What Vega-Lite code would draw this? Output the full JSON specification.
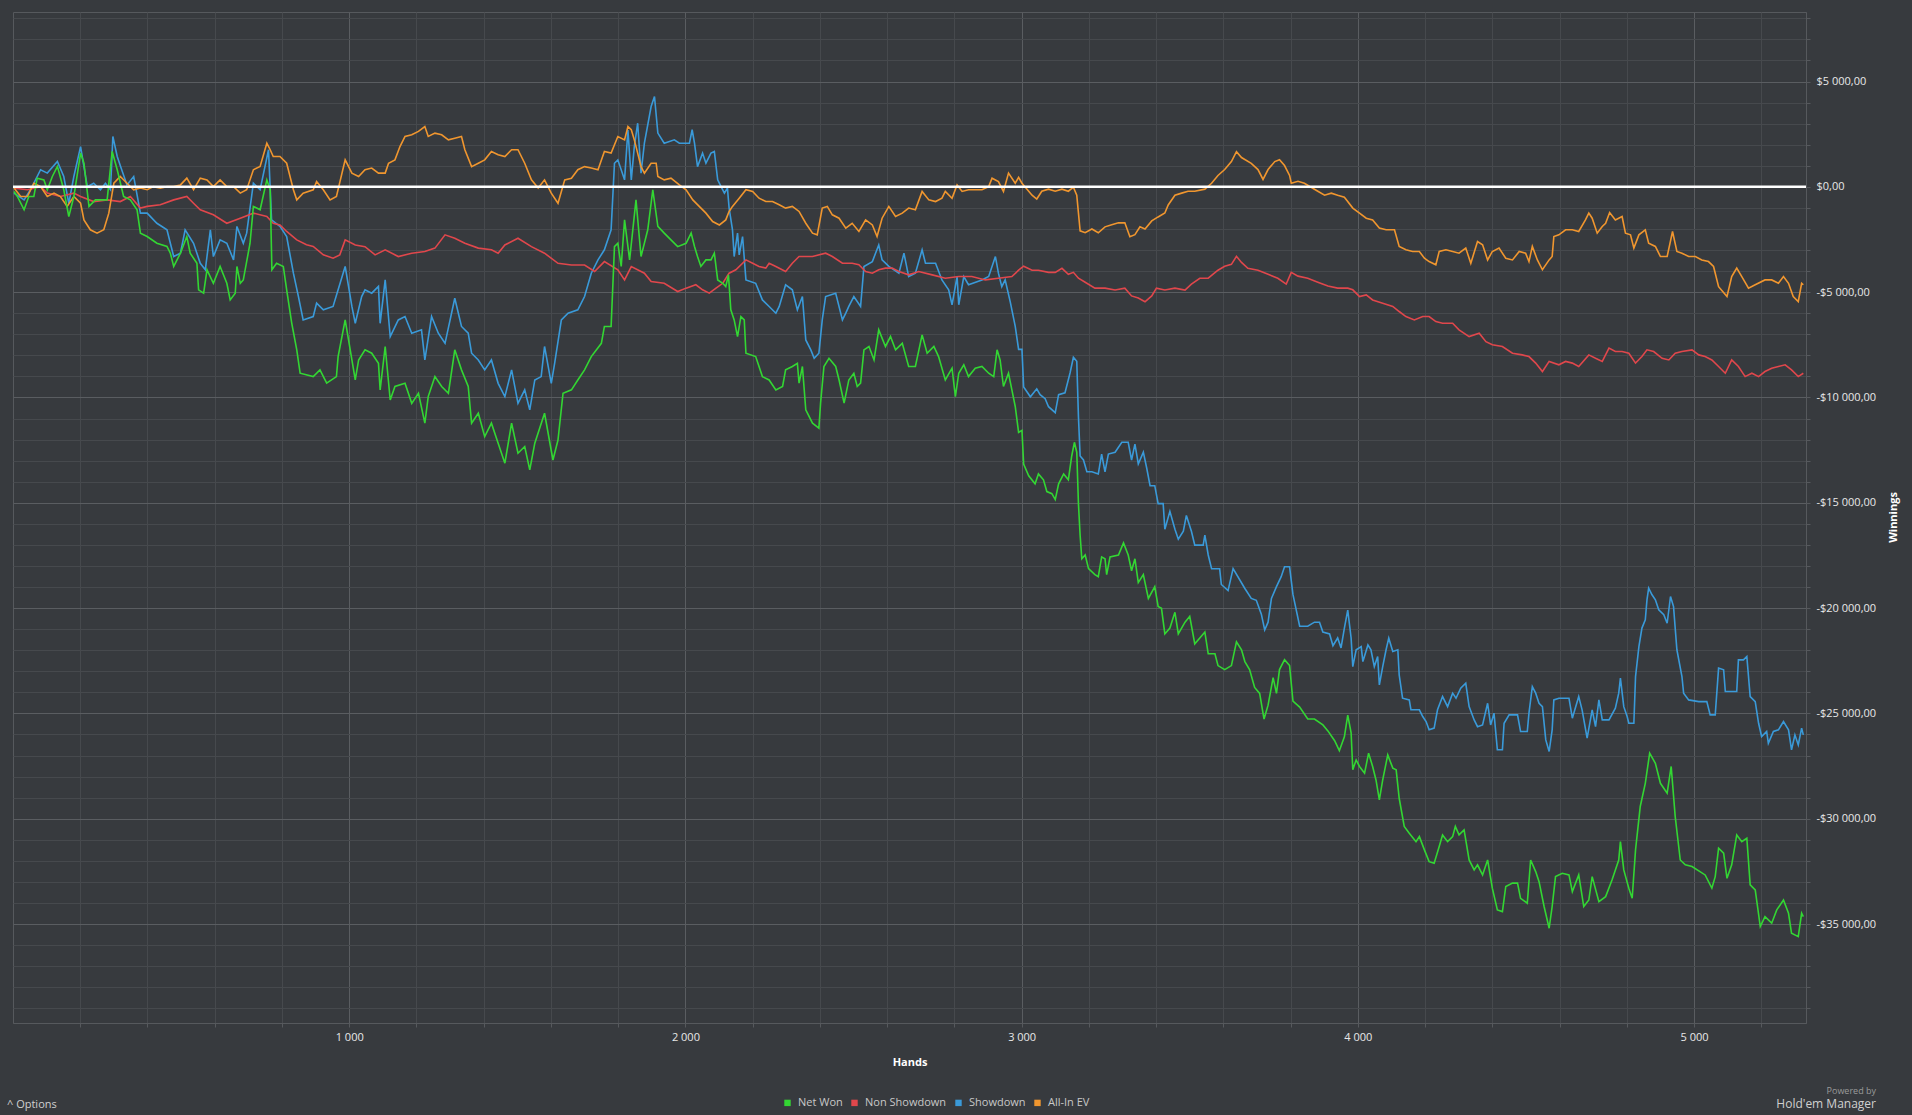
{
  "$schema": "https://vega.github.io/schema/vega-lite/v6.json",
  "width": 1793,
  "height": 1011,
  "autosize": {"type": "none"},
  "padding": {"left": 13, "top": 12, "right": 106, "bottom": 92},
  "background": "#373a3e",
  "config": {
    "font": "Open Sans",
    "locale": {"number": {"decimal": ",", "thousands": " ", "grouping": [3], "currency": ["$", ""], "minus": "-"}},
    "view": {"stroke": "#56595d", "fill": "#373a3e"}
  },
  "title": {
    "text": "Powered by",
    "subtitle": "Hold'em Manager",
    "orient": "bottom",
    "anchor": "end",
    "frame": "bounds",
    "offset": -27,
    "dx": -22,
    "fontSize": 9,
    "fontWeight": "normal",
    "color": "#9a9a9a",
    "subtitleFontSize": 12,
    "subtitleColor": "#d0d0d0",
    "subtitlePadding": 3
  },
  "datasets": {
    "winnings": [
      {"series":"Showdown","hands":3,"won":-300},{"series":"Showdown","hands":33,"won":-620},{"series":"Showdown","hands":52,"won":-140},{"series":"Showdown","hands":82,"won":810},{"series":"Showdown","hands":102,"won":650},{"series":"Showdown","hands":132,"won":1200},{"series":"Showdown","hands":151,"won":490},{"series":"Showdown","hands":166,"won":-780},{"series":"Showdown","hands":181,"won":490},{"series":"Showdown","hands":201,"won":1910},{"series":"Showdown","hands":221,"won":0},{"series":"Showdown","hands":240,"won":170},{"series":"Showdown","hands":260,"won":-140},{"series":"Showdown","hands":275,"won":170},{"series":"Showdown","hands":290,"won":-140},{"series":"Showdown","hands":297,"won":2390},{"series":"Showdown","hands":310,"won":1440},{"series":"Showdown","hands":320,"won":970},{"series":"Showdown","hands":339,"won":90},{"series":"Showdown","hands":359,"won":490},{"series":"Showdown","hands":379,"won":-1250},{"series":"Showdown","hands":399,"won":-1250},{"series":"Showdown","hands":428,"won":-1730},{"series":"Showdown","hands":458,"won":-2040},{"series":"Showdown","hands":468,"won":-2680},{"series":"Showdown","hands":478,"won":-3310},{"series":"Showdown","hands":498,"won":-3150},{"series":"Showdown","hands":512,"won":-2040},{"series":"Showdown","hands":537,"won":-2680},{"series":"Showdown","hands":557,"won":-3630},{"series":"Showdown","hands":572,"won":-3940},{"series":"Showdown","hands":587,"won":-2040},{"series":"Showdown","hands":596,"won":-3310},{"series":"Showdown","hands":616,"won":-2520},{"series":"Showdown","hands":636,"won":-2680},{"series":"Showdown","hands":656,"won":-3470},{"series":"Showdown","hands":666,"won":-1880},{"series":"Showdown","hands":685,"won":-2680},{"series":"Showdown","hands":695,"won":-2200},{"series":"Showdown","hands":715,"won":170},{"series":"Showdown","hands":735,"won":-140},{"series":"Showdown","hands":760,"won":1760},{"series":"Showdown","hands":769,"won":-1570},{"series":"Showdown","hands":794,"won":-1880},{"series":"Showdown","hands":814,"won":-2360},{"series":"Showdown","hands":834,"won":-4100},{"series":"Showdown","hands":849,"won":-5210},{"series":"Showdown","hands":863,"won":-6320},{"series":"Showdown","hands":893,"won":-6160},{"series":"Showdown","hands":903,"won":-5520},{"series":"Showdown","hands":923,"won":-5840},{"series":"Showdown","hands":952,"won":-5680},{"series":"Showdown","hands":967,"won":-4890},{"series":"Showdown","hands":988,"won":-3780},{"series":"Showdown","hands":1008,"won":-5680},{"series":"Showdown","hands":1018,"won":-6480},{"series":"Showdown","hands":1037,"won":-5210},{"series":"Showdown","hands":1047,"won":-4890},{"series":"Showdown","hands":1067,"won":-5050},{"series":"Showdown","hands":1087,"won":-4730},{"series":"Showdown","hands":1092,"won":-6480},{"series":"Showdown","hands":1107,"won":-4420},{"series":"Showdown","hands":1122,"won":-7110},{"series":"Showdown","hands":1146,"won":-6320},{"series":"Showdown","hands":1166,"won":-6160},{"series":"Showdown","hands":1186,"won":-6950},{"series":"Showdown","hands":1215,"won":-6790},{"series":"Showdown","hands":1225,"won":-8220},{"series":"Showdown","hands":1245,"won":-6160},{"series":"Showdown","hands":1265,"won":-6950},{"series":"Showdown","hands":1285,"won":-7430},{"series":"Showdown","hands":1314,"won":-5290},{"series":"Showdown","hands":1334,"won":-6630},{"series":"Showdown","hands":1354,"won":-6950},{"series":"Showdown","hands":1364,"won":-7900},{"series":"Showdown","hands":1384,"won":-8220},{"series":"Showdown","hands":1403,"won":-8690},{"series":"Showdown","hands":1423,"won":-8220},{"series":"Showdown","hands":1443,"won":-9330},{"series":"Showdown","hands":1463,"won":-9960},{"series":"Showdown","hands":1483,"won":-8690},{"series":"Showdown","hands":1502,"won":-10280},{"series":"Showdown","hands":1522,"won":-9640},{"series":"Showdown","hands":1537,"won":-10590},{"series":"Showdown","hands":1552,"won":-9170},{"series":"Showdown","hands":1571,"won":-9010},{"series":"Showdown","hands":1581,"won":-7580},{"series":"Showdown","hands":1601,"won":-9330},{"series":"Showdown","hands":1611,"won":-8380},{"series":"Showdown","hands":1631,"won":-6320},{"series":"Showdown","hands":1651,"won":-6000},{"series":"Showdown","hands":1680,"won":-5840},{"series":"Showdown","hands":1700,"won":-5210},{"series":"Showdown","hands":1720,"won":-4100},{"series":"Showdown","hands":1740,"won":-3470},{"series":"Showdown","hands":1759,"won":-2990},{"series":"Showdown","hands":1779,"won":-2040},{"series":"Showdown","hands":1789,"won":1120},{"series":"Showdown","hands":1799,"won":1280},{"series":"Showdown","hands":1819,"won":330},{"series":"Showdown","hands":1829,"won":2700},{"series":"Showdown","hands":1839,"won":330},{"series":"Showdown","hands":1848,"won":1910},{"series":"Showdown","hands":1858,"won":3020},{"series":"Showdown","hands":1868,"won":650},{"series":"Showdown","hands":1878,"won":2070},{"series":"Showdown","hands":1898,"won":3810},{"series":"Showdown","hands":1908,"won":4290},{"series":"Showdown","hands":1918,"won":2550},{"series":"Showdown","hands":1937,"won":2070},{"series":"Showdown","hands":1967,"won":2230},{"series":"Showdown","hands":1982,"won":2070},{"series":"Showdown","hands":2012,"won":2070},{"series":"Showdown","hands":2020,"won":2710},{"series":"Showdown","hands":2027,"won":2070},{"series":"Showdown","hands":2036,"won":960},{"series":"Showdown","hands":2051,"won":1600},{"series":"Showdown","hands":2061,"won":1120},{"series":"Showdown","hands":2076,"won":1600},{"series":"Showdown","hands":2086,"won":1680},{"series":"Showdown","hands":2096,"won":330},{"series":"Showdown","hands":2106,"won":10},{"series":"Showdown","hands":2116,"won":-300},{"series":"Showdown","hands":2125,"won":-60},{"series":"Showdown","hands":2130,"won":-1010},{"series":"Showdown","hands":2140,"won":-2040},{"series":"Showdown","hands":2145,"won":-3310},{"series":"Showdown","hands":2155,"won":-2200},{"series":"Showdown","hands":2160,"won":-3230},{"series":"Showdown","hands":2170,"won":-2360},{"series":"Showdown","hands":2180,"won":-4420},{"series":"Showdown","hands":2209,"won":-4580},{"series":"Showdown","hands":2229,"won":-5370},{"series":"Showdown","hands":2249,"won":-5680},{"series":"Showdown","hands":2269,"won":-6000},{"series":"Showdown","hands":2279,"won":-5680},{"series":"Showdown","hands":2298,"won":-4650},{"series":"Showdown","hands":2318,"won":-4890},{"series":"Showdown","hands":2333,"won":-5840},{"series":"Showdown","hands":2348,"won":-5210},{"series":"Showdown","hands":2358,"won":-7270},{"series":"Showdown","hands":2373,"won":-7740},{"series":"Showdown","hands":2383,"won":-8140},{"series":"Showdown","hands":2397,"won":-7900},{"series":"Showdown","hands":2407,"won":-6320},{"series":"Showdown","hands":2417,"won":-5210},{"series":"Showdown","hands":2447,"won":-5050},{"series":"Showdown","hands":2467,"won":-6320},{"series":"Showdown","hands":2477,"won":-6000},{"series":"Showdown","hands":2486,"won":-5680},{"series":"Showdown","hands":2501,"won":-5210},{"series":"Showdown","hands":2521,"won":-5680},{"series":"Showdown","hands":2531,"won":-3780},{"series":"Showdown","hands":2556,"won":-3550},{"series":"Showdown","hands":2575,"won":-2760},{"series":"Showdown","hands":2585,"won":-3470},{"series":"Showdown","hands":2605,"won":-3780},{"series":"Showdown","hands":2635,"won":-4100},{"series":"Showdown","hands":2650,"won":-3150},{"series":"Showdown","hands":2664,"won":-4260},{"series":"Showdown","hands":2684,"won":-4100},{"series":"Showdown","hands":2704,"won":-2990},{"series":"Showdown","hands":2714,"won":-3630},{"series":"Showdown","hands":2744,"won":-3630},{"series":"Showdown","hands":2763,"won":-4420},{"series":"Showdown","hands":2783,"won":-4890},{"series":"Showdown","hands":2793,"won":-5600},{"series":"Showdown","hands":2808,"won":-4260},{"series":"Showdown","hands":2813,"won":-5600},{"series":"Showdown","hands":2828,"won":-4260},{"series":"Showdown","hands":2842,"won":-4650},{"series":"Showdown","hands":2882,"won":-4420},{"series":"Showdown","hands":2902,"won":-4260},{"series":"Showdown","hands":2922,"won":-3310},{"series":"Showdown","hands":2931,"won":-4100},{"series":"Showdown","hands":2941,"won":-4740},{"series":"Showdown","hands":2951,"won":-4420},{"series":"Showdown","hands":2966,"won":-5450},{"series":"Showdown","hands":2981,"won":-6630},{"series":"Showdown","hands":2991,"won":-7720},{"series":"Showdown","hands":3001,"won":-7720},{"series":"Showdown","hands":3006,"won":-9500},{"series":"Showdown","hands":3026,"won":-9970},{"series":"Showdown","hands":3045,"won":-9590},{"series":"Showdown","hands":3055,"won":-9870},{"series":"Showdown","hands":3070,"won":-10060},{"series":"Showdown","hands":3080,"won":-10440},{"series":"Showdown","hands":3100,"won":-10720},{"series":"Showdown","hands":3110,"won":-9870},{"series":"Showdown","hands":3129,"won":-9780},{"series":"Showdown","hands":3144,"won":-8840},{"series":"Showdown","hands":3154,"won":-8090},{"series":"Showdown","hands":3164,"won":-8280},{"series":"Showdown","hands":3169,"won":-10910},{"series":"Showdown","hands":3174,"won":-12780},{"series":"Showdown","hands":3184,"won":-12970},{"series":"Showdown","hands":3194,"won":-13530},{"series":"Showdown","hands":3209,"won":-13530},{"series":"Showdown","hands":3228,"won":-13630},{"series":"Showdown","hands":3238,"won":-12690},{"series":"Showdown","hands":3248,"won":-13530},{"series":"Showdown","hands":3258,"won":-12690},{"series":"Showdown","hands":3278,"won":-12600},{"series":"Showdown","hands":3298,"won":-12130},{"series":"Showdown","hands":3317,"won":-12130},{"series":"Showdown","hands":3327,"won":-12970},{"series":"Showdown","hands":3337,"won":-12220},{"series":"Showdown","hands":3347,"won":-13160},{"series":"Showdown","hands":3362,"won":-12600},{"series":"Showdown","hands":3372,"won":-13350},{"series":"Showdown","hands":3382,"won":-14190},{"series":"Showdown","hands":3396,"won":-14190},{"series":"Showdown","hands":3406,"won":-15040},{"series":"Showdown","hands":3421,"won":-15040},{"series":"Showdown","hands":3426,"won":-16260},{"series":"Showdown","hands":3441,"won":-15410},{"series":"Showdown","hands":3456,"won":-16260},{"series":"Showdown","hands":3466,"won":-16730},{"series":"Showdown","hands":3481,"won":-16350},{"series":"Showdown","hands":3490,"won":-15600},{"series":"Showdown","hands":3505,"won":-16350},{"series":"Showdown","hands":3515,"won":-17010},{"series":"Showdown","hands":3540,"won":-17010},{"series":"Showdown","hands":3545,"won":-16540},{"series":"Showdown","hands":3555,"won":-17480},{"series":"Showdown","hands":3565,"won":-18130},{"series":"Showdown","hands":3589,"won":-18130},{"series":"Showdown","hands":3594,"won":-18880},{"series":"Showdown","hands":3614,"won":-19170},{"series":"Showdown","hands":3629,"won":-18130},{"series":"Showdown","hands":3664,"won":-19070},{"series":"Showdown","hands":3683,"won":-19540},{"series":"Showdown","hands":3698,"won":-19630},{"series":"Showdown","hands":3713,"won":-20290},{"series":"Showdown","hands":3723,"won":-21040},{"series":"Showdown","hands":3733,"won":-20670},{"series":"Showdown","hands":3743,"won":-19540},{"series":"Showdown","hands":3758,"won":-18980},{"series":"Showdown","hands":3772,"won":-18510},{"series":"Showdown","hands":3782,"won":-18040},{"series":"Showdown","hands":3797,"won":-18040},{"series":"Showdown","hands":3807,"won":-19350},{"series":"Showdown","hands":3827,"won":-20860},{"series":"Showdown","hands":3851,"won":-20860},{"series":"Showdown","hands":3871,"won":-20670},{"series":"Showdown","hands":3886,"won":-20670},{"series":"Showdown","hands":3896,"won":-21140},{"series":"Showdown","hands":3916,"won":-21230},{"series":"Showdown","hands":3926,"won":-21790},{"series":"Showdown","hands":3940,"won":-21420},{"series":"Showdown","hands":3950,"won":-21890},{"series":"Showdown","hands":3960,"won":-20950},{"series":"Showdown","hands":3970,"won":-20100},{"series":"Showdown","hands":3980,"won":-21420},{"series":"Showdown","hands":3985,"won":-22780},{"series":"Showdown","hands":3995,"won":-21980},{"series":"Showdown","hands":4010,"won":-21830},{"series":"Showdown","hands":4015,"won":-22540},{"series":"Showdown","hands":4030,"won":-21750},{"series":"Showdown","hands":4039,"won":-21980},{"series":"Showdown","hands":4049,"won":-22780},{"series":"Showdown","hands":4059,"won":-22300},{"series":"Showdown","hands":4064,"won":-23650},{"series":"Showdown","hands":4074,"won":-22780},{"series":"Showdown","hands":4084,"won":-21980},{"series":"Showdown","hands":4092,"won":-21430},{"series":"Showdown","hands":4104,"won":-22060},{"series":"Showdown","hands":4119,"won":-21980},{"series":"Showdown","hands":4123,"won":-23170},{"series":"Showdown","hands":4133,"won":-24280},{"series":"Showdown","hands":4153,"won":-24360},{"series":"Showdown","hands":4158,"won":-24830},{"series":"Showdown","hands":4183,"won":-24830},{"series":"Showdown","hands":4193,"won":-25150},{"series":"Showdown","hands":4203,"won":-25390},{"series":"Showdown","hands":4212,"won":-25780},{"series":"Showdown","hands":4227,"won":-25700},{"series":"Showdown","hands":4237,"won":-24830},{"series":"Showdown","hands":4252,"won":-24200},{"series":"Showdown","hands":4267,"won":-24680},{"series":"Showdown","hands":4282,"won":-24040},{"series":"Showdown","hands":4292,"won":-24280},{"series":"Showdown","hands":4306,"won":-23800},{"series":"Showdown","hands":4321,"won":-23570},{"series":"Showdown","hands":4331,"won":-24680},{"series":"Showdown","hands":4346,"won":-25310},{"series":"Showdown","hands":4356,"won":-25630},{"series":"Showdown","hands":4371,"won":-25550},{"series":"Showdown","hands":4386,"won":-24520},{"series":"Showdown","hands":4395,"won":-25550},{"series":"Showdown","hands":4405,"won":-24990},{"series":"Showdown","hands":4415,"won":-26730},{"series":"Showdown","hands":4430,"won":-26730},{"series":"Showdown","hands":4435,"won":-25470},{"series":"Showdown","hands":4450,"won":-25070},{"series":"Showdown","hands":4475,"won":-25070},{"series":"Showdown","hands":4484,"won":-25860},{"series":"Showdown","hands":4504,"won":-25860},{"series":"Showdown","hands":4509,"won":-24990},{"series":"Showdown","hands":4519,"won":-23730},{"series":"Showdown","hands":4529,"won":-24040},{"series":"Showdown","hands":4539,"won":-24520},{"series":"Showdown","hands":4549,"won":-24680},{"series":"Showdown","hands":4559,"won":-26260},{"series":"Showdown","hands":4569,"won":-26810},{"series":"Showdown","hands":4578,"won":-25780},{"series":"Showdown","hands":4583,"won":-24360},{"series":"Showdown","hands":4598,"won":-24280},{"series":"Showdown","hands":4628,"won":-24280},{"series":"Showdown","hands":4638,"won":-25230},{"series":"Showdown","hands":4657,"won":-24200},{"series":"Showdown","hands":4667,"won":-24830},{"series":"Showdown","hands":4682,"won":-26180},{"series":"Showdown","hands":4697,"won":-24830},{"series":"Showdown","hands":4707,"won":-25630},{"series":"Showdown","hands":4717,"won":-24360},{"series":"Showdown","hands":4727,"won":-25310},{"series":"Showdown","hands":4747,"won":-25310},{"series":"Showdown","hands":4766,"won":-24750},{"series":"Showdown","hands":4776,"won":-24040},{"series":"Showdown","hands":4781,"won":-23330},{"series":"Showdown","hands":4791,"won":-24680},{"series":"Showdown","hands":4801,"won":-25150},{"series":"Showdown","hands":4806,"won":-25470},{"series":"Showdown","hands":4821,"won":-25470},{"series":"Showdown","hands":4826,"won":-23250},{"series":"Showdown","hands":4836,"won":-21830},{"series":"Showdown","hands":4845,"won":-20950},{"series":"Showdown","hands":4855,"won":-20560},{"series":"Showdown","hands":4860,"won":-19610},{"series":"Showdown","hands":4865,"won":-19050},{"series":"Showdown","hands":4875,"won":-19370},{"series":"Showdown","hands":4885,"won":-19610},{"series":"Showdown","hands":4895,"won":-20080},{"series":"Showdown","hands":4910,"won":-20320},{"series":"Showdown","hands":4920,"won":-20720},{"series":"Showdown","hands":4930,"won":-19450},{"series":"Showdown","hands":4939,"won":-19930},{"series":"Showdown","hands":4949,"won":-21980},{"series":"Showdown","hands":4964,"won":-23250},{"series":"Showdown","hands":4969,"won":-24040},{"series":"Showdown","hands":4984,"won":-24360},{"series":"Showdown","hands":5014,"won":-24440},{"series":"Showdown","hands":5038,"won":-24440},{"series":"Showdown","hands":5048,"won":-25070},{"series":"Showdown","hands":5063,"won":-25070},{"series":"Showdown","hands":5073,"won":-22850},{"series":"Showdown","hands":5088,"won":-22930},{"series":"Showdown","hands":5093,"won":-23960},{"series":"Showdown","hands":5127,"won":-23960},{"series":"Showdown","hands":5132,"won":-22460},{"series":"Showdown","hands":5147,"won":-22460},{"series":"Showdown","hands":5157,"won":-22300},{"series":"Showdown","hands":5167,"won":-24200},{"series":"Showdown","hands":5182,"won":-24440},{"series":"Showdown","hands":5192,"won":-25470},{"series":"Showdown","hands":5201,"won":-26100},{"series":"Showdown","hands":5216,"won":-25860},{"series":"Showdown","hands":5221,"won":-26420},{"series":"Showdown","hands":5236,"won":-25860},{"series":"Showdown","hands":5251,"won":-25780},{"series":"Showdown","hands":5266,"won":-25390},{"series":"Showdown","hands":5281,"won":-25780},{"series":"Showdown","hands":5290,"won":-26730},{"series":"Showdown","hands":5300,"won":-26020},{"series":"Showdown","hands":5310,"won":-26500},{"series":"Showdown","hands":5320,"won":-25700},{"series":"Showdown","hands":5325,"won":-26020},
      {"series":"Non Showdown","hands":3,"won":-60},{"series":"Non Showdown","hands":43,"won":-140},{"series":"Non Showdown","hands":82,"won":10},{"series":"Non Showdown","hands":102,"won":-300},{"series":"Non Showdown","hands":141,"won":-460},{"series":"Non Showdown","hands":181,"won":-300},{"series":"Non Showdown","hands":201,"won":-460},{"series":"Non Showdown","hands":240,"won":-700},{"series":"Non Showdown","hands":280,"won":-620},{"series":"Non Showdown","hands":319,"won":-700},{"series":"Non Showdown","hands":349,"won":-460},{"series":"Non Showdown","hands":379,"won":-1010},{"series":"Non Showdown","hands":399,"won":-930},{"series":"Non Showdown","hands":438,"won":-850},{"series":"Non Showdown","hands":478,"won":-620},{"series":"Non Showdown","hands":517,"won":-460},{"series":"Non Showdown","hands":537,"won":-780},{"series":"Non Showdown","hands":557,"won":-1090},{"series":"Non Showdown","hands":596,"won":-1330},{"series":"Non Showdown","hands":636,"won":-1730},{"series":"Non Showdown","hands":676,"won":-1490},{"series":"Non Showdown","hands":715,"won":-1250},{"series":"Non Showdown","hands":755,"won":-1410},{"series":"Non Showdown","hands":774,"won":-1730},{"series":"Non Showdown","hands":794,"won":-1810},{"series":"Non Showdown","hands":814,"won":-2120},{"series":"Non Showdown","hands":844,"won":-2520},{"series":"Non Showdown","hands":873,"won":-2750},{"series":"Non Showdown","hands":893,"won":-2830},{"series":"Non Showdown","hands":923,"won":-3230},{"series":"Non Showdown","hands":952,"won":-3390},{"series":"Non Showdown","hands":972,"won":-3230},{"series":"Non Showdown","hands":988,"won":-2520},{"series":"Non Showdown","hands":1018,"won":-2760},{"series":"Non Showdown","hands":1047,"won":-2840},{"series":"Non Showdown","hands":1077,"won":-3230},{"series":"Non Showdown","hands":1107,"won":-2990},{"series":"Non Showdown","hands":1146,"won":-3310},{"series":"Non Showdown","hands":1186,"won":-3150},{"series":"Non Showdown","hands":1225,"won":-3070},{"series":"Non Showdown","hands":1255,"won":-2910},{"series":"Non Showdown","hands":1285,"won":-2280},{"series":"Non Showdown","hands":1314,"won":-2440},{"series":"Non Showdown","hands":1344,"won":-2680},{"series":"Non Showdown","hands":1384,"won":-2910},{"series":"Non Showdown","hands":1423,"won":-2990},{"series":"Non Showdown","hands":1443,"won":-3150},{"series":"Non Showdown","hands":1463,"won":-2760},{"series":"Non Showdown","hands":1502,"won":-2440},{"series":"Non Showdown","hands":1542,"won":-2840},{"series":"Non Showdown","hands":1581,"won":-3150},{"series":"Non Showdown","hands":1621,"won":-3630},{"series":"Non Showdown","hands":1661,"won":-3710},{"series":"Non Showdown","hands":1700,"won":-3710},{"series":"Non Showdown","hands":1730,"won":-4020},{"series":"Non Showdown","hands":1759,"won":-3550},{"series":"Non Showdown","hands":1799,"won":-3940},{"series":"Non Showdown","hands":1819,"won":-4420},{"series":"Non Showdown","hands":1839,"won":-3790},{"series":"Non Showdown","hands":1878,"won":-4100},{"series":"Non Showdown","hands":1898,"won":-4500},{"series":"Non Showdown","hands":1937,"won":-4580},{"series":"Non Showdown","hands":1977,"won":-4970},{"series":"Non Showdown","hands":2002,"won":-4810},{"series":"Non Showdown","hands":2031,"won":-4650},{"series":"Non Showdown","hands":2051,"won":-4890},{"series":"Non Showdown","hands":2071,"won":-5050},{"series":"Non Showdown","hands":2091,"won":-4810},{"series":"Non Showdown","hands":2111,"won":-4580},{"series":"Non Showdown","hands":2130,"won":-4100},{"series":"Non Showdown","hands":2150,"won":-3940},{"series":"Non Showdown","hands":2180,"won":-3470},{"series":"Non Showdown","hands":2200,"won":-3630},{"series":"Non Showdown","hands":2219,"won":-3780},{"series":"Non Showdown","hands":2239,"won":-3860},{"series":"Non Showdown","hands":2249,"won":-3630},{"series":"Non Showdown","hands":2269,"won":-3780},{"series":"Non Showdown","hands":2298,"won":-4020},{"series":"Non Showdown","hands":2318,"won":-3630},{"series":"Non Showdown","hands":2338,"won":-3310},{"series":"Non Showdown","hands":2378,"won":-3310},{"series":"Non Showdown","hands":2417,"won":-3150},{"series":"Non Showdown","hands":2437,"won":-3310},{"series":"Non Showdown","hands":2467,"won":-3630},{"series":"Non Showdown","hands":2496,"won":-3630},{"series":"Non Showdown","hands":2516,"won":-3700},{"series":"Non Showdown","hands":2536,"won":-4020},{"series":"Non Showdown","hands":2556,"won":-4100},{"series":"Non Showdown","hands":2575,"won":-3940},{"series":"Non Showdown","hands":2595,"won":-3860},{"series":"Non Showdown","hands":2615,"won":-3860},{"series":"Non Showdown","hands":2635,"won":-4020},{"series":"Non Showdown","hands":2664,"won":-4180},{"series":"Non Showdown","hands":2694,"won":-4020},{"series":"Non Showdown","hands":2734,"won":-4180},{"series":"Non Showdown","hands":2773,"won":-4340},{"series":"Non Showdown","hands":2813,"won":-4260},{"series":"Non Showdown","hands":2852,"won":-4260},{"series":"Non Showdown","hands":2892,"won":-4420},{"series":"Non Showdown","hands":2931,"won":-4340},{"series":"Non Showdown","hands":2971,"won":-4260},{"series":"Non Showdown","hands":2991,"won":-3960},{"series":"Non Showdown","hands":3006,"won":-3770},{"series":"Non Showdown","hands":3031,"won":-3960},{"series":"Non Showdown","hands":3050,"won":-3960},{"series":"Non Showdown","hands":3080,"won":-4060},{"series":"Non Showdown","hands":3100,"won":-4060},{"series":"Non Showdown","hands":3120,"won":-3870},{"series":"Non Showdown","hands":3139,"won":-4150},{"series":"Non Showdown","hands":3154,"won":-4060},{"series":"Non Showdown","hands":3169,"won":-4340},{"series":"Non Showdown","hands":3189,"won":-4530},{"series":"Non Showdown","hands":3218,"won":-4810},{"series":"Non Showdown","hands":3248,"won":-4810},{"series":"Non Showdown","hands":3278,"won":-4900},{"series":"Non Showdown","hands":3307,"won":-4810},{"series":"Non Showdown","hands":3327,"won":-5180},{"series":"Non Showdown","hands":3347,"won":-5280},{"series":"Non Showdown","hands":3367,"won":-5460},{"series":"Non Showdown","hands":3387,"won":-5180},{"series":"Non Showdown","hands":3401,"won":-4810},{"series":"Non Showdown","hands":3426,"won":-4900},{"series":"Non Showdown","hands":3456,"won":-4810},{"series":"Non Showdown","hands":3486,"won":-4900},{"series":"Non Showdown","hands":3505,"won":-4620},{"series":"Non Showdown","hands":3530,"won":-4340},{"series":"Non Showdown","hands":3555,"won":-4340},{"series":"Non Showdown","hands":3584,"won":-3960},{"series":"Non Showdown","hands":3604,"won":-3770},{"series":"Non Showdown","hands":3624,"won":-3680},{"series":"Non Showdown","hands":3639,"won":-3300},{"series":"Non Showdown","hands":3654,"won":-3590},{"series":"Non Showdown","hands":3673,"won":-3870},{"series":"Non Showdown","hands":3703,"won":-3960},{"series":"Non Showdown","hands":3733,"won":-4150},{"series":"Non Showdown","hands":3762,"won":-4340},{"series":"Non Showdown","hands":3787,"won":-4620},{"series":"Non Showdown","hands":3802,"won":-4060},{"series":"Non Showdown","hands":3822,"won":-4240},{"series":"Non Showdown","hands":3851,"won":-4340},{"series":"Non Showdown","hands":3881,"won":-4530},{"series":"Non Showdown","hands":3911,"won":-4710},{"series":"Non Showdown","hands":3940,"won":-4810},{"series":"Non Showdown","hands":3970,"won":-4810},{"series":"Non Showdown","hands":3985,"won":-4890},{"series":"Non Showdown","hands":4005,"won":-5210},{"series":"Non Showdown","hands":4025,"won":-5130},{"series":"Non Showdown","hands":4044,"won":-5370},{"series":"Non Showdown","hands":4074,"won":-5530},{"series":"Non Showdown","hands":4104,"won":-5680},{"series":"Non Showdown","hands":4123,"won":-5920},{"series":"Non Showdown","hands":4143,"won":-6160},{"series":"Non Showdown","hands":4168,"won":-6320},{"series":"Non Showdown","hands":4193,"won":-6160},{"series":"Non Showdown","hands":4212,"won":-6160},{"series":"Non Showdown","hands":4232,"won":-6400},{"series":"Non Showdown","hands":4252,"won":-6480},{"series":"Non Showdown","hands":4282,"won":-6480},{"series":"Non Showdown","hands":4301,"won":-6790},{"series":"Non Showdown","hands":4331,"won":-7110},{"series":"Non Showdown","hands":4361,"won":-6950},{"series":"Non Showdown","hands":4381,"won":-7350},{"series":"Non Showdown","hands":4400,"won":-7500},{"series":"Non Showdown","hands":4430,"won":-7580},{"series":"Non Showdown","hands":4460,"won":-7900},{"series":"Non Showdown","hands":4489,"won":-7980},{"series":"Non Showdown","hands":4509,"won":-8060},{"series":"Non Showdown","hands":4529,"won":-8370},{"series":"Non Showdown","hands":4549,"won":-8770},{"series":"Non Showdown","hands":4569,"won":-8290},{"series":"Non Showdown","hands":4598,"won":-8450},{"series":"Non Showdown","hands":4618,"won":-8290},{"series":"Non Showdown","hands":4638,"won":-8370},{"series":"Non Showdown","hands":4657,"won":-8530},{"series":"Non Showdown","hands":4687,"won":-7980},{"series":"Non Showdown","hands":4707,"won":-8140},{"series":"Non Showdown","hands":4727,"won":-8290},{"series":"Non Showdown","hands":4747,"won":-7660},{"series":"Non Showdown","hands":4766,"won":-7820},{"series":"Non Showdown","hands":4786,"won":-7820},{"series":"Non Showdown","hands":4806,"won":-7900},{"series":"Non Showdown","hands":4826,"won":-8370},{"series":"Non Showdown","hands":4845,"won":-8060},{"series":"Non Showdown","hands":4860,"won":-7740},{"series":"Non Showdown","hands":4880,"won":-7820},{"series":"Non Showdown","hands":4905,"won":-8140},{"series":"Non Showdown","hands":4925,"won":-8220},{"series":"Non Showdown","hands":4944,"won":-7900},{"series":"Non Showdown","hands":4964,"won":-7820},{"series":"Non Showdown","hands":4994,"won":-7740},{"series":"Non Showdown","hands":5014,"won":-7980},{"series":"Non Showdown","hands":5033,"won":-8060},{"series":"Non Showdown","hands":5053,"won":-8220},{"series":"Non Showdown","hands":5073,"won":-8530},{"series":"Non Showdown","hands":5093,"won":-8850},{"series":"Non Showdown","hands":5112,"won":-8220},{"series":"Non Showdown","hands":5132,"won":-8530},{"series":"Non Showdown","hands":5152,"won":-9010},{"series":"Non Showdown","hands":5172,"won":-8850},{"series":"Non Showdown","hands":5192,"won":-9010},{"series":"Non Showdown","hands":5211,"won":-8770},{"series":"Non Showdown","hands":5231,"won":-8610},{"series":"Non Showdown","hands":5251,"won":-8530},{"series":"Non Showdown","hands":5271,"won":-8450},{"series":"Non Showdown","hands":5290,"won":-8690},{"series":"Non Showdown","hands":5310,"won":-9010},{"series":"Non Showdown","hands":5325,"won":-8850},
      {"series":"All-In EV","hands":3,"won":-60},{"series":"All-In EV","hands":23,"won":-460},{"series":"All-In EV","hands":43,"won":-460},{"series":"All-In EV","hands":62,"won":170},{"series":"All-In EV","hands":82,"won":10},{"series":"All-In EV","hands":102,"won":-460},{"series":"All-In EV","hands":122,"won":-300},{"series":"All-In EV","hands":141,"won":-460},{"series":"All-In EV","hands":161,"won":-930},{"series":"All-In EV","hands":181,"won":-460},{"series":"All-In EV","hands":201,"won":-780},{"series":"All-In EV","hands":211,"won":-1570},{"series":"All-In EV","hands":230,"won":-2040},{"series":"All-In EV","hands":250,"won":-2200},{"series":"All-In EV","hands":270,"won":-2040},{"series":"All-In EV","hands":285,"won":-1250},{"series":"All-In EV","hands":300,"won":170},{"series":"All-In EV","hands":319,"won":490},{"series":"All-In EV","hands":339,"won":170},{"series":"All-In EV","hands":359,"won":-140},{"series":"All-In EV","hands":379,"won":-60},{"series":"All-In EV","hands":399,"won":-140},{"series":"All-In EV","hands":418,"won":10},{"series":"All-In EV","hands":438,"won":-60},{"series":"All-In EV","hands":458,"won":10},{"series":"All-In EV","hands":478,"won":10},{"series":"All-In EV","hands":498,"won":90},{"series":"All-In EV","hands":517,"won":410},{"series":"All-In EV","hands":537,"won":-140},{"series":"All-In EV","hands":557,"won":410},{"series":"All-In EV","hands":577,"won":330},{"series":"All-In EV","hands":596,"won":10},{"series":"All-In EV","hands":616,"won":330},{"series":"All-In EV","hands":636,"won":10},{"series":"All-In EV","hands":656,"won":10},{"series":"All-In EV","hands":676,"won":-300},{"series":"All-In EV","hands":695,"won":-140},{"series":"All-In EV","hands":715,"won":810},{"series":"All-In EV","hands":735,"won":970},{"series":"All-In EV","hands":755,"won":2070},{"series":"All-In EV","hands":765,"won":1760},{"series":"All-In EV","hands":774,"won":1440},{"series":"All-In EV","hands":794,"won":1440},{"series":"All-In EV","hands":814,"won":1120},{"series":"All-In EV","hands":834,"won":-140},{"series":"All-In EV","hands":844,"won":-620},{"series":"All-In EV","hands":863,"won":-300},{"series":"All-In EV","hands":893,"won":-140},{"series":"All-In EV","hands":903,"won":250},{"series":"All-In EV","hands":923,"won":-140},{"series":"All-In EV","hands":943,"won":-620},{"series":"All-In EV","hands":962,"won":-460},{"series":"All-In EV","hands":988,"won":1280},{"series":"All-In EV","hands":1008,"won":650},{"series":"All-In EV","hands":1028,"won":490},{"series":"All-In EV","hands":1047,"won":810},{"series":"All-In EV","hands":1067,"won":890},{"series":"All-In EV","hands":1087,"won":650},{"series":"All-In EV","hands":1107,"won":650},{"series":"All-In EV","hands":1117,"won":1120},{"series":"All-In EV","hands":1136,"won":1280},{"series":"All-In EV","hands":1151,"won":1910},{"series":"All-In EV","hands":1166,"won":2390},{"series":"All-In EV","hands":1186,"won":2470},{"series":"All-In EV","hands":1206,"won":2630},{"series":"All-In EV","hands":1225,"won":2860},{"series":"All-In EV","hands":1235,"won":2390},{"series":"All-In EV","hands":1255,"won":2550},{"series":"All-In EV","hands":1275,"won":2470},{"series":"All-In EV","hands":1295,"won":2230},{"series":"All-In EV","hands":1314,"won":2310},{"series":"All-In EV","hands":1334,"won":2390},{"series":"All-In EV","hands":1344,"won":1760},{"series":"All-In EV","hands":1364,"won":960},{"series":"All-In EV","hands":1384,"won":1120},{"series":"All-In EV","hands":1403,"won":1280},{"series":"All-In EV","hands":1423,"won":1680},{"series":"All-In EV","hands":1443,"won":1520},{"series":"All-In EV","hands":1463,"won":1440},{"series":"All-In EV","hands":1483,"won":1760},{"series":"All-In EV","hands":1502,"won":1760},{"series":"All-In EV","hands":1522,"won":1120},{"series":"All-In EV","hands":1542,"won":330},{"series":"All-In EV","hands":1562,"won":-60},{"series":"All-In EV","hands":1581,"won":330},{"series":"All-In EV","hands":1601,"won":-300},{"series":"All-In EV","hands":1621,"won":-780},{"series":"All-In EV","hands":1641,"won":330},{"series":"All-In EV","hands":1661,"won":410},{"series":"All-In EV","hands":1680,"won":810},{"series":"All-In EV","hands":1700,"won":960},{"series":"All-In EV","hands":1720,"won":890},{"series":"All-In EV","hands":1740,"won":810},{"series":"All-In EV","hands":1759,"won":1680},{"series":"All-In EV","hands":1779,"won":1600},{"series":"All-In EV","hands":1799,"won":2390},{"series":"All-In EV","hands":1819,"won":2230},{"series":"All-In EV","hands":1829,"won":2860},{"series":"All-In EV","hands":1839,"won":2710},{"series":"All-In EV","hands":1848,"won":2230},{"series":"All-In EV","hands":1858,"won":1600},{"series":"All-In EV","hands":1868,"won":960},{"series":"All-In EV","hands":1878,"won":650},{"series":"All-In EV","hands":1898,"won":1120},{"series":"All-In EV","hands":1913,"won":1120},{"series":"All-In EV","hands":1918,"won":490},{"series":"All-In EV","hands":1937,"won":330},{"series":"All-In EV","hands":1957,"won":410},{"series":"All-In EV","hands":1982,"won":90},{"series":"All-In EV","hands":2002,"won":-140},{"series":"All-In EV","hands":2022,"won":-620},{"series":"All-In EV","hands":2041,"won":-930},{"series":"All-In EV","hands":2061,"won":-1250},{"series":"All-In EV","hands":2081,"won":-1650},{"series":"All-In EV","hands":2101,"won":-1810},{"series":"All-In EV","hands":2120,"won":-1570},{"series":"All-In EV","hands":2130,"won":-1170},{"series":"All-In EV","hands":2140,"won":-930},{"series":"All-In EV","hands":2160,"won":-540},{"series":"All-In EV","hands":2180,"won":-140},{"series":"All-In EV","hands":2200,"won":-220},{"series":"All-In EV","hands":2219,"won":-540},{"series":"All-In EV","hands":2239,"won":-700},{"series":"All-In EV","hands":2259,"won":-700},{"series":"All-In EV","hands":2279,"won":-850},{"series":"All-In EV","hands":2298,"won":-1010},{"series":"All-In EV","hands":2318,"won":-930},{"series":"All-In EV","hands":2338,"won":-1170},{"series":"All-In EV","hands":2358,"won":-1730},{"series":"All-In EV","hands":2378,"won":-2200},{"series":"All-In EV","hands":2392,"won":-2280},{"series":"All-In EV","hands":2407,"won":-1010},{"series":"All-In EV","hands":2422,"won":-930},{"series":"All-In EV","hands":2437,"won":-1330},{"series":"All-In EV","hands":2457,"won":-1490},{"series":"All-In EV","hands":2477,"won":-1960},{"series":"All-In EV","hands":2496,"won":-1730},{"series":"All-In EV","hands":2516,"won":-2120},{"series":"All-In EV","hands":2536,"won":-1570},{"series":"All-In EV","hands":2556,"won":-1810},{"series":"All-In EV","hands":2570,"won":-2360},{"series":"All-In EV","hands":2585,"won":-1490},{"series":"All-In EV","hands":2605,"won":-930},{"series":"All-In EV","hands":2625,"won":-1410},{"series":"All-In EV","hands":2645,"won":-1250},{"series":"All-In EV","hands":2664,"won":-1010},{"series":"All-In EV","hands":2684,"won":-1090},{"series":"All-In EV","hands":2704,"won":-220},{"series":"All-In EV","hands":2724,"won":-620},{"series":"All-In EV","hands":2744,"won":-700},{"series":"All-In EV","hands":2763,"won":-540},{"series":"All-In EV","hands":2773,"won":-220},{"series":"All-In EV","hands":2793,"won":-540},{"series":"All-In EV","hands":2808,"won":90},{"series":"All-In EV","hands":2823,"won":-220},{"series":"All-In EV","hands":2842,"won":-140},{"series":"All-In EV","hands":2862,"won":-140},{"series":"All-In EV","hands":2882,"won":-140},{"series":"All-In EV","hands":2902,"won":10},{"series":"All-In EV","hands":2912,"won":410},{"series":"All-In EV","hands":2931,"won":250},{"series":"All-In EV","hands":2946,"won":-220},{"series":"All-In EV","hands":2961,"won":650},{"series":"All-In EV","hands":2981,"won":170},{"series":"All-In EV","hands":2991,"won":450},{"series":"All-In EV","hands":3001,"won":170},{"series":"All-In EV","hands":3011,"won":-20},{"series":"All-In EV","hands":3031,"won":-400},{"series":"All-In EV","hands":3045,"won":-580},{"series":"All-In EV","hands":3060,"won":-210},{"series":"All-In EV","hands":3080,"won":-110},{"series":"All-In EV","hands":3100,"won":-210},{"series":"All-In EV","hands":3120,"won":-110},{"series":"All-In EV","hands":3139,"won":-210},{"series":"All-In EV","hands":3154,"won":-20},{"series":"All-In EV","hands":3164,"won":-400},{"series":"All-In EV","hands":3174,"won":-2090},{"series":"All-In EV","hands":3189,"won":-2180},{"series":"All-In EV","hands":3209,"won":-2000},{"series":"All-In EV","hands":3228,"won":-2180},{"series":"All-In EV","hands":3248,"won":-1900},{"series":"All-In EV","hands":3268,"won":-1800},{"series":"All-In EV","hands":3288,"won":-1710},{"series":"All-In EV","hands":3307,"won":-1710},{"series":"All-In EV","hands":3322,"won":-2370},{"series":"All-In EV","hands":3337,"won":-2270},{"series":"All-In EV","hands":3352,"won":-1900},{"series":"All-In EV","hands":3367,"won":-2000},{"series":"All-In EV","hands":3387,"won":-1620},{"series":"All-In EV","hands":3406,"won":-1430},{"series":"All-In EV","hands":3426,"won":-1240},{"series":"All-In EV","hands":3436,"won":-860},{"series":"All-In EV","hands":3456,"won":-400},{"series":"All-In EV","hands":3476,"won":-300},{"series":"All-In EV","hands":3495,"won":-210},{"series":"All-In EV","hands":3515,"won":-210},{"series":"All-In EV","hands":3545,"won":-110},{"series":"All-In EV","hands":3565,"won":170},{"series":"All-In EV","hands":3584,"won":540},{"series":"All-In EV","hands":3604,"won":820},{"series":"All-In EV","hands":3624,"won":1200},{"series":"All-In EV","hands":3639,"won":1670},{"series":"All-In EV","hands":3654,"won":1390},{"series":"All-In EV","hands":3683,"won":1110},{"series":"All-In EV","hands":3703,"won":820},{"series":"All-In EV","hands":3718,"won":350},{"series":"All-In EV","hands":3733,"won":820},{"series":"All-In EV","hands":3753,"won":1200},{"series":"All-In EV","hands":3767,"won":1290},{"series":"All-In EV","hands":3782,"won":1010},{"series":"All-In EV","hands":3797,"won":540},{"series":"All-In EV","hands":3802,"won":170},{"series":"All-In EV","hands":3822,"won":260},{"series":"All-In EV","hands":3841,"won":170},{"series":"All-In EV","hands":3861,"won":-20},{"series":"All-In EV","hands":3881,"won":-210},{"series":"All-In EV","hands":3901,"won":-400},{"series":"All-In EV","hands":3921,"won":-300},{"series":"All-In EV","hands":3940,"won":-400},{"series":"All-In EV","hands":3960,"won":-490},{"series":"All-In EV","hands":3985,"won":-1010},{"series":"All-In EV","hands":4005,"won":-1250},{"series":"All-In EV","hands":4025,"won":-1490},{"series":"All-In EV","hands":4044,"won":-1570},{"series":"All-In EV","hands":4064,"won":-1960},{"series":"All-In EV","hands":4084,"won":-2040},{"series":"All-In EV","hands":4109,"won":-2040},{"series":"All-In EV","hands":4123,"won":-2830},{"series":"All-In EV","hands":4143,"won":-2990},{"series":"All-In EV","hands":4163,"won":-3070},{"series":"All-In EV","hands":4183,"won":-3070},{"series":"All-In EV","hands":4198,"won":-3390},{"series":"All-In EV","hands":4212,"won":-3550},{"series":"All-In EV","hands":4232,"won":-3700},{"series":"All-In EV","hands":4242,"won":-3070},{"series":"All-In EV","hands":4262,"won":-2990},{"series":"All-In EV","hands":4282,"won":-3070},{"series":"All-In EV","hands":4301,"won":-3150},{"series":"All-In EV","hands":4321,"won":-2910},{"series":"All-In EV","hands":4336,"won":-3630},{"series":"All-In EV","hands":4356,"won":-2600},{"series":"All-In EV","hands":4371,"won":-2750},{"series":"All-In EV","hands":4386,"won":-3470},{"series":"All-In EV","hands":4400,"won":-3070},{"series":"All-In EV","hands":4420,"won":-2910},{"series":"All-In EV","hands":4440,"won":-3390},{"series":"All-In EV","hands":4460,"won":-3470},{"series":"All-In EV","hands":4480,"won":-3070},{"series":"All-In EV","hands":4499,"won":-3150},{"series":"All-In EV","hands":4509,"won":-3550},{"series":"All-In EV","hands":4519,"won":-2830},{"series":"All-In EV","hands":4534,"won":-3470},{"series":"All-In EV","hands":4549,"won":-3940},{"series":"All-In EV","hands":4569,"won":-3470},{"series":"All-In EV","hands":4578,"won":-3310},{"series":"All-In EV","hands":4583,"won":-2360},{"series":"All-In EV","hands":4598,"won":-2280},{"series":"All-In EV","hands":4618,"won":-2040},{"series":"All-In EV","hands":4638,"won":-2040},{"series":"All-In EV","hands":4657,"won":-2120},{"series":"All-In EV","hands":4677,"won":-1570},{"series":"All-In EV","hands":4687,"won":-1250},{"series":"All-In EV","hands":4697,"won":-1490},{"series":"All-In EV","hands":4712,"won":-2200},{"series":"All-In EV","hands":4727,"won":-1880},{"series":"All-In EV","hands":4737,"won":-1730},{"series":"All-In EV","hands":4749,"won":-1220},{"series":"All-In EV","hands":4766,"won":-1570},{"series":"All-In EV","hands":4786,"won":-1410},{"series":"All-In EV","hands":4796,"won":-2200},{"series":"All-In EV","hands":4811,"won":-2280},{"series":"All-In EV","hands":4821,"won":-2910},{"series":"All-In EV","hands":4836,"won":-2280},{"series":"All-In EV","hands":4855,"won":-2040},{"series":"All-In EV","hands":4865,"won":-2680},{"series":"All-In EV","hands":4885,"won":-2830},{"series":"All-In EV","hands":4900,"won":-3310},{"series":"All-In EV","hands":4920,"won":-3310},{"series":"All-In EV","hands":4936,"won":-2120},{"series":"All-In EV","hands":4949,"won":-3070},{"series":"All-In EV","hands":4964,"won":-3150},{"series":"All-In EV","hands":4984,"won":-3310},{"series":"All-In EV","hands":5004,"won":-3310},{"series":"All-In EV","hands":5023,"won":-3470},{"series":"All-In EV","hands":5043,"won":-3550},{"series":"All-In EV","hands":5058,"won":-3780},{"series":"All-In EV","hands":5073,"won":-4740},{"series":"All-In EV","hands":5098,"won":-5210},{"series":"All-In EV","hands":5112,"won":-4260},{"series":"All-In EV","hands":5127,"won":-3860},{"series":"All-In EV","hands":5142,"won":-4260},{"series":"All-In EV","hands":5162,"won":-4810},{"series":"All-In EV","hands":5182,"won":-4650},{"series":"All-In EV","hands":5211,"won":-4420},{"series":"All-In EV","hands":5231,"won":-4420},{"series":"All-In EV","hands":5251,"won":-4580},{"series":"All-In EV","hands":5266,"won":-4260},{"series":"All-In EV","hands":5281,"won":-4580},{"series":"All-In EV","hands":5295,"won":-5210},{"series":"All-In EV","hands":5310,"won":-5450},{"series":"All-In EV","hands":5320,"won":-4580},{"series":"All-In EV","hands":5325,"won":-4650},
      {"series":"Net Won","hands":3,"won":-220},{"series":"Net Won","hands":13,"won":-460},{"series":"Net Won","hands":33,"won":-1090},{"series":"Net Won","hands":47,"won":-460},{"series":"Net Won","hands":62,"won":-460},{"series":"Net Won","hands":72,"won":410},{"series":"Net Won","hands":92,"won":330},{"series":"Net Won","hands":102,"won":-140},{"series":"Net Won","hands":117,"won":490},{"series":"Net Won","hands":132,"won":970},{"series":"Net Won","hands":151,"won":-140},{"series":"Net Won","hands":166,"won":-1410},{"series":"Net Won","hands":181,"won":-460},{"series":"Net Won","hands":201,"won":1600},{"series":"Net Won","hands":211,"won":1120},{"series":"Net Won","hands":226,"won":-930},{"series":"Net Won","hands":245,"won":-620},{"series":"Net Won","hands":260,"won":-620},{"series":"Net Won","hands":280,"won":-620},{"series":"Net Won","hands":295,"won":1680},{"series":"Net Won","hands":310,"won":810},{"series":"Net Won","hands":329,"won":-460},{"series":"Net Won","hands":349,"won":-620},{"series":"Net Won","hands":369,"won":-1090},{"series":"Net Won","hands":379,"won":-2200},{"series":"Net Won","hands":399,"won":-2360},{"series":"Net Won","hands":428,"won":-2680},{"series":"Net Won","hands":458,"won":-2830},{"series":"Net Won","hands":468,"won":-3150},{"series":"Net Won","hands":478,"won":-3780},{"series":"Net Won","hands":498,"won":-3150},{"series":"Net Won","hands":517,"won":-2360},{"series":"Net Won","hands":527,"won":-3150},{"series":"Net Won","hands":547,"won":-3630},{"series":"Net Won","hands":552,"won":-4890},{"series":"Net Won","hands":567,"won":-5050},{"series":"Net Won","hands":577,"won":-3940},{"series":"Net Won","hands":596,"won":-4580},{"series":"Net Won","hands":616,"won":-3780},{"series":"Net Won","hands":636,"won":-4580},{"series":"Net Won","hands":646,"won":-5370},{"series":"Net Won","hands":661,"won":-5050},{"series":"Net Won","hands":666,"won":-3780},{"series":"Net Won","hands":676,"won":-4580},{"series":"Net Won","hands":685,"won":-4420},{"series":"Net Won","hands":705,"won":-2680},{"series":"Net Won","hands":715,"won":-930},{"series":"Net Won","hands":735,"won":-1090},{"series":"Net Won","hands":755,"won":330},{"series":"Net Won","hands":765,"won":-140},{"series":"Net Won","hands":770,"won":-3940},{"series":"Net Won","hands":784,"won":-3630},{"series":"Net Won","hands":804,"won":-3780},{"series":"Net Won","hands":814,"won":-4890},{"series":"Net Won","hands":829,"won":-6470},{"series":"Net Won","hands":844,"won":-7740},{"series":"Net Won","hands":854,"won":-8850},{"series":"Net Won","hands":893,"won":-9010},{"series":"Net Won","hands":913,"won":-8690},{"series":"Net Won","hands":933,"won":-9320},{"series":"Net Won","hands":962,"won":-9010},{"series":"Net Won","hands":967,"won":-8060},{"series":"Net Won","hands":988,"won":-6320},{"series":"Net Won","hands":998,"won":-7270},{"series":"Net Won","hands":1018,"won":-9170},{"series":"Net Won","hands":1028,"won":-8220},{"series":"Net Won","hands":1047,"won":-7740},{"series":"Net Won","hands":1067,"won":-7900},{"series":"Net Won","hands":1087,"won":-8380},{"series":"Net Won","hands":1092,"won":-9640},{"series":"Net Won","hands":1107,"won":-7580},{"series":"Net Won","hands":1122,"won":-10120},{"series":"Net Won","hands":1136,"won":-9480},{"series":"Net Won","hands":1166,"won":-9330},{"series":"Net Won","hands":1186,"won":-10280},{"series":"Net Won","hands":1206,"won":-9800},{"series":"Net Won","hands":1225,"won":-11220},{"series":"Net Won","hands":1235,"won":-9960},{"series":"Net Won","hands":1255,"won":-9010},{"series":"Net Won","hands":1275,"won":-9480},{"series":"Net Won","hands":1295,"won":-9800},{"series":"Net Won","hands":1314,"won":-7740},{"series":"Net Won","hands":1334,"won":-8690},{"series":"Net Won","hands":1354,"won":-9480},{"series":"Net Won","hands":1364,"won":-11220},{"series":"Net Won","hands":1384,"won":-10750},{"series":"Net Won","hands":1403,"won":-11860},{"series":"Net Won","hands":1423,"won":-11220},{"series":"Net Won","hands":1443,"won":-12170},{"series":"Net Won","hands":1463,"won":-13120},{"series":"Net Won","hands":1483,"won":-11220},{"series":"Net Won","hands":1502,"won":-12650},{"series":"Net Won","hands":1522,"won":-12330},{"series":"Net Won","hands":1537,"won":-13440},{"series":"Net Won","hands":1552,"won":-12170},{"series":"Net Won","hands":1581,"won":-10750},{"series":"Net Won","hands":1606,"won":-12970},{"series":"Net Won","hands":1621,"won":-12020},{"series":"Net Won","hands":1636,"won":-9800},{"series":"Net Won","hands":1661,"won":-9640},{"series":"Net Won","hands":1680,"won":-9170},{"series":"Net Won","hands":1700,"won":-8690},{"series":"Net Won","hands":1720,"won":-8060},{"series":"Net Won","hands":1750,"won":-7430},{"series":"Net Won","hands":1759,"won":-6630},{"series":"Net Won","hands":1779,"won":-6630},{"series":"Net Won","hands":1789,"won":-2840},{"series":"Net Won","hands":1799,"won":-2680},{"series":"Net Won","hands":1809,"won":-3780},{"series":"Net Won","hands":1819,"won":-1570},{"series":"Net Won","hands":1834,"won":-3470},{"series":"Net Won","hands":1853,"won":-620},{"series":"Net Won","hands":1868,"won":-3310},{"series":"Net Won","hands":1888,"won":-2040},{"series":"Net Won","hands":1903,"won":-140},{"series":"Net Won","hands":1918,"won":-1880},{"series":"Net Won","hands":1937,"won":-2200},{"series":"Net Won","hands":1957,"won":-2520},{"series":"Net Won","hands":1977,"won":-2840},{"series":"Net Won","hands":2002,"won":-2680},{"series":"Net Won","hands":2017,"won":-2200},{"series":"Net Won","hands":2027,"won":-2830},{"series":"Net Won","hands":2036,"won":-3310},{"series":"Net Won","hands":2046,"won":-3780},{"series":"Net Won","hands":2061,"won":-3470},{"series":"Net Won","hands":2076,"won":-3470},{"series":"Net Won","hands":2086,"won":-3150},{"series":"Net Won","hands":2096,"won":-4420},{"series":"Net Won","hands":2111,"won":-4580},{"series":"Net Won","hands":2120,"won":-4740},{"series":"Net Won","hands":2128,"won":-4180},{"series":"Net Won","hands":2135,"won":-5840},{"series":"Net Won","hands":2145,"won":-6320},{"series":"Net Won","hands":2155,"won":-7110},{"series":"Net Won","hands":2165,"won":-6160},{"series":"Net Won","hands":2175,"won":-6320},{"series":"Net Won","hands":2180,"won":-7900},{"series":"Net Won","hands":2209,"won":-8060},{"series":"Net Won","hands":2229,"won":-9010},{"series":"Net Won","hands":2249,"won":-9170},{"series":"Net Won","hands":2269,"won":-9640},{"series":"Net Won","hands":2289,"won":-9480},{"series":"Net Won","hands":2298,"won":-8690},{"series":"Net Won","hands":2318,"won":-8530},{"series":"Net Won","hands":2333,"won":-8380},{"series":"Net Won","hands":2338,"won":-9320},{"series":"Net Won","hands":2348,"won":-8530},{"series":"Net Won","hands":2358,"won":-10590},{"series":"Net Won","hands":2378,"won":-11220},{"series":"Net Won","hands":2397,"won":-11460},{"series":"Net Won","hands":2402,"won":-10270},{"series":"Net Won","hands":2412,"won":-8530},{"series":"Net Won","hands":2427,"won":-8140},{"series":"Net Won","hands":2447,"won":-8530},{"series":"Net Won","hands":2457,"won":-9170},{"series":"Net Won","hands":2472,"won":-10270},{"series":"Net Won","hands":2486,"won":-9170},{"series":"Net Won","hands":2501,"won":-8850},{"series":"Net Won","hands":2511,"won":-9480},{"series":"Net Won","hands":2521,"won":-9320},{"series":"Net Won","hands":2531,"won":-7740},{"series":"Net Won","hands":2546,"won":-7580},{"series":"Net Won","hands":2561,"won":-8220},{"series":"Net Won","hands":2575,"won":-6790},{"series":"Net Won","hands":2595,"won":-7580},{"series":"Net Won","hands":2610,"won":-7110},{"series":"Net Won","hands":2625,"won":-7740},{"series":"Net Won","hands":2645,"won":-7430},{"series":"Net Won","hands":2664,"won":-8530},{"series":"Net Won","hands":2684,"won":-8530},{"series":"Net Won","hands":2704,"won":-7030},{"series":"Net Won","hands":2719,"won":-7900},{"series":"Net Won","hands":2739,"won":-7580},{"series":"Net Won","hands":2753,"won":-8060},{"series":"Net Won","hands":2773,"won":-9170},{"series":"Net Won","hands":2793,"won":-8610},{"series":"Net Won","hands":2803,"won":-9960},{"series":"Net Won","hands":2813,"won":-8850},{"series":"Net Won","hands":2828,"won":-8450},{"series":"Net Won","hands":2842,"won":-9010},{"series":"Net Won","hands":2862,"won":-8610},{"series":"Net Won","hands":2882,"won":-8530},{"series":"Net Won","hands":2902,"won":-8850},{"series":"Net Won","hands":2917,"won":-9010},{"series":"Net Won","hands":2927,"won":-7740},{"series":"Net Won","hands":2936,"won":-8220},{"series":"Net Won","hands":2946,"won":-9480},{"series":"Net Won","hands":2961,"won":-8850},{"series":"Net Won","hands":2971,"won":-9640},{"series":"Net Won","hands":2981,"won":-10430},{"series":"Net Won","hands":2991,"won":-11660},{"series":"Net Won","hands":3001,"won":-11560},{"series":"Net Won","hands":3006,"won":-13160},{"series":"Net Won","hands":3021,"won":-13720},{"series":"Net Won","hands":3040,"won":-14100},{"series":"Net Won","hands":3050,"won":-13630},{"series":"Net Won","hands":3065,"won":-13910},{"series":"Net Won","hands":3075,"won":-14470},{"series":"Net Won","hands":3090,"won":-14570},{"series":"Net Won","hands":3100,"won":-14850},{"series":"Net Won","hands":3110,"won":-14100},{"series":"Net Won","hands":3125,"won":-13630},{"series":"Net Won","hands":3139,"won":-13910},{"series":"Net Won","hands":3149,"won":-12780},{"series":"Net Won","hands":3157,"won":-12130},{"series":"Net Won","hands":3164,"won":-12600},{"series":"Net Won","hands":3169,"won":-15040},{"series":"Net Won","hands":3174,"won":-16540},{"series":"Net Won","hands":3179,"won":-17660},{"series":"Net Won","hands":3189,"won":-17480},{"series":"Net Won","hands":3199,"won":-18130},{"series":"Net Won","hands":3218,"won":-18410},{"series":"Net Won","hands":3228,"won":-18510},{"series":"Net Won","hands":3238,"won":-17570},{"series":"Net Won","hands":3248,"won":-17660},{"series":"Net Won","hands":3253,"won":-18410},{"series":"Net Won","hands":3263,"won":-17570},{"series":"Net Won","hands":3288,"won":-17480},{"series":"Net Won","hands":3303,"won":-16910},{"series":"Net Won","hands":3317,"won":-17480},{"series":"Net Won","hands":3327,"won":-18230},{"series":"Net Won","hands":3337,"won":-17660},{"series":"Net Won","hands":3347,"won":-18790},{"series":"Net Won","hands":3362,"won":-18410},{"series":"Net Won","hands":3377,"won":-19540},{"series":"Net Won","hands":3396,"won":-18980},{"series":"Net Won","hands":3406,"won":-19920},{"series":"Net Won","hands":3416,"won":-20010},{"series":"Net Won","hands":3426,"won":-21230},{"series":"Net Won","hands":3441,"won":-20950},{"series":"Net Won","hands":3456,"won":-20200},{"series":"Net Won","hands":3466,"won":-21230},{"series":"Net Won","hands":3486,"won":-20670},{"series":"Net Won","hands":3500,"won":-20390},{"series":"Net Won","hands":3515,"won":-21700},{"series":"Net Won","hands":3530,"won":-21420},{"series":"Net Won","hands":3545,"won":-21140},{"series":"Net Won","hands":3555,"won":-22170},{"series":"Net Won","hands":3575,"won":-22170},{"series":"Net Won","hands":3584,"won":-22730},{"series":"Net Won","hands":3604,"won":-22920},{"series":"Net Won","hands":3624,"won":-22730},{"series":"Net Won","hands":3639,"won":-21600},{"series":"Net Won","hands":3654,"won":-21980},{"series":"Net Won","hands":3664,"won":-22540},{"series":"Net Won","hands":3678,"won":-22920},{"series":"Net Won","hands":3693,"won":-23770},{"series":"Net Won","hands":3708,"won":-24050},{"series":"Net Won","hands":3721,"won":-25270},{"series":"Net Won","hands":3733,"won":-24610},{"series":"Net Won","hands":3748,"won":-23300},{"series":"Net Won","hands":3758,"won":-24050},{"series":"Net Won","hands":3767,"won":-22920},{"series":"Net Won","hands":3782,"won":-22450},{"series":"Net Won","hands":3797,"won":-22730},{"series":"Net Won","hands":3807,"won":-24420},{"series":"Net Won","hands":3827,"won":-24700},{"series":"Net Won","hands":3851,"won":-25270},{"series":"Net Won","hands":3871,"won":-25270},{"series":"Net Won","hands":3896,"won":-25550},{"series":"Net Won","hands":3911,"won":-25830},{"series":"Net Won","hands":3931,"won":-26300},{"series":"Net Won","hands":3945,"won":-26770},{"series":"Net Won","hands":3960,"won":-26110},{"series":"Net Won","hands":3970,"won":-25080},{"series":"Net Won","hands":3980,"won":-25920},{"series":"Net Won","hands":3985,"won":-27680},{"series":"Net Won","hands":3995,"won":-27210},{"series":"Net Won","hands":4005,"won":-27520},{"series":"Net Won","hands":4020,"won":-27840},{"series":"Net Won","hands":4032,"won":-26890},{"series":"Net Won","hands":4044,"won":-27520},{"series":"Net Won","hands":4054,"won":-28160},{"series":"Net Won","hands":4064,"won":-29110},{"series":"Net Won","hands":4074,"won":-28160},{"series":"Net Won","hands":4089,"won":-26970},{"series":"Net Won","hands":4104,"won":-27600},{"series":"Net Won","hands":4114,"won":-27680},{"series":"Net Won","hands":4123,"won":-29030},{"series":"Net Won","hands":4138,"won":-30370},{"series":"Net Won","hands":4153,"won":-30690},{"series":"Net Won","hands":4173,"won":-31090},{"series":"Net Won","hands":4183,"won":-30850},{"series":"Net Won","hands":4198,"won":-31480},{"series":"Net Won","hands":4212,"won":-32040},{"series":"Net Won","hands":4227,"won":-32120},{"series":"Net Won","hands":4242,"won":-31320},{"series":"Net Won","hands":4252,"won":-30770},{"series":"Net Won","hands":4267,"won":-31090},{"series":"Net Won","hands":4282,"won":-30850},{"series":"Net Won","hands":4290,"won":-30370},{"series":"Net Won","hands":4301,"won":-30770},{"series":"Net Won","hands":4316,"won":-30530},{"series":"Net Won","hands":4331,"won":-31960},{"series":"Net Won","hands":4346,"won":-32430},{"series":"Net Won","hands":4356,"won":-32190},{"series":"Net Won","hands":4371,"won":-32670},{"series":"Net Won","hands":4386,"won":-31960},{"series":"Net Won","hands":4400,"won":-33300},{"series":"Net Won","hands":4415,"won":-34330},{"series":"Net Won","hands":4430,"won":-34410},{"series":"Net Won","hands":4440,"won":-33220},{"series":"Net Won","hands":4460,"won":-33060},{"series":"Net Won","hands":4475,"won":-33060},{"series":"Net Won","hands":4484,"won":-33780},{"series":"Net Won","hands":4504,"won":-34010},{"series":"Net Won","hands":4514,"won":-31960},{"series":"Net Won","hands":4529,"won":-32510},{"series":"Net Won","hands":4539,"won":-32990},{"series":"Net Won","hands":4554,"won":-34170},{"series":"Net Won","hands":4569,"won":-35200},{"series":"Net Won","hands":4578,"won":-34170},{"series":"Net Won","hands":4588,"won":-32750},{"series":"Net Won","hands":4608,"won":-32590},{"series":"Net Won","hands":4628,"won":-32670},{"series":"Net Won","hands":4638,"won":-33460},{"series":"Net Won","hands":4657,"won":-32670},{"series":"Net Won","hands":4672,"won":-34170},{"series":"Net Won","hands":4687,"won":-33860},{"series":"Net Won","hands":4697,"won":-32750},{"series":"Net Won","hands":4717,"won":-33940},{"series":"Net Won","hands":4737,"won":-33700},{"series":"Net Won","hands":4756,"won":-32910},{"series":"Net Won","hands":4776,"won":-31960},{"series":"Net Won","hands":4781,"won":-31090},{"series":"Net Won","hands":4791,"won":-32430},{"series":"Net Won","hands":4806,"won":-33300},{"series":"Net Won","hands":4816,"won":-33780},{"series":"Net Won","hands":4826,"won":-31480},{"series":"Net Won","hands":4840,"won":-29420},{"series":"Net Won","hands":4855,"won":-28320},{"series":"Net Won","hands":4868,"won":-26890},{"series":"Net Won","hands":4885,"won":-27370},{"series":"Net Won","hands":4900,"won":-28320},{"series":"Net Won","hands":4920,"won":-28790},{"series":"Net Won","hands":4932,"won":-27520},{"series":"Net Won","hands":4944,"won":-29900},{"series":"Net Won","hands":4959,"won":-31960},{"series":"Net Won","hands":4974,"won":-32190},{"series":"Net Won","hands":4994,"won":-32270},{"series":"Net Won","hands":5033,"won":-32670},{"series":"Net Won","hands":5053,"won":-33300},{"series":"Net Won","hands":5063,"won":-32750},{"series":"Net Won","hands":5073,"won":-31400},{"series":"Net Won","hands":5088,"won":-31640},{"series":"Net Won","hands":5098,"won":-32830},{"series":"Net Won","hands":5112,"won":-32190},{"series":"Net Won","hands":5127,"won":-30770},{"series":"Net Won","hands":5142,"won":-31090},{"series":"Net Won","hands":5157,"won":-30930},{"series":"Net Won","hands":5167,"won":-33140},{"series":"Net Won","hands":5182,"won":-33380},{"series":"Net Won","hands":5197,"won":-35120},{"series":"Net Won","hands":5211,"won":-34650},{"series":"Net Won","hands":5231,"won":-34960},{"series":"Net Won","hands":5246,"won":-34330},{"series":"Net Won","hands":5266,"won":-33860},{"series":"Net Won","hands":5281,"won":-34490},{"series":"Net Won","hands":5290,"won":-35440},{"series":"Net Won","hands":5310,"won":-35600},{"series":"Net Won","hands":5320,"won":-34490},{"series":"Net Won","hands":5325,"won":-34650}
    ]
  },
  "resolve": {"axis": {"x": "independent", "y": "independent"}},
  "layer": [
    {
      "data": {"name": "winnings"},
      "mark": {"type": "point", "opacity": 0},
      "encoding": {
        "x": {
          "field": "hands", "type": "quantitative",
          "scale": {"domain": [0, 5333], "nice": false, "zero": false},
          "axis": {
            "orient": "bottom", "title": null, "labels": false, "domain": false,
            "values": [200,400,600,800,1200,1400,1600,1800,2200,2400,2600,2800,3200,3400,3600,3800,4200,4400,4600,4800,5200],
            "grid": true, "gridColor": "#46494d", "tickColor": "#56595d", "tickSize": 4
          }
        },
        "y": {
          "field": "won", "type": "quantitative",
          "scale": {"domain": [-39700, 8300], "nice": false, "zero": false},
          "axis": {
            "orient": "right", "title": null, "labels": false, "domain": false,
            "values": [-39000,-38000,-37000,-36000,-34000,-33000,-32000,-31000,-29000,-28000,-27000,-26000,-24000,-23000,-22000,-21000,-19000,-18000,-17000,-16000,-14000,-13000,-12000,-11000,-9000,-8000,-7000,-6000,-4000,-3000,-2000,-1000,1000,2000,3000,4000,6000,7000,8000],
            "grid": true, "gridColor": "#46494d", "tickColor": "#56595d", "tickSize": 4
          }
        }
      }
    },
    {
      "data": {"name": "winnings"},
      "mark": {"type": "line", "strokeWidth": 1.6, "clip": true},
      "encoding": {
        "x": {
          "field": "hands", "type": "quantitative", "title": "Hands",
          "scale": {"domain": [0, 5333], "nice": false, "zero": false},
          "axis": {
            "orient": "bottom",
            "values": [1000, 2000, 3000, 4000, 5000],
            "format": ",d",
            "labelOverlap": false,
            "grid": true,
            "gridColor": "#5a5d61",
            "domainColor": "#56595d",
            "tickColor": "#56595d",
            "tickSize": 4,
            "labelColor": "#e8e8e8",
            "labelFontSize": 11,
            "labelPadding": 4,
            "titleColor": "#ffffff",
            "titleFontSize": 11,
            "titleFontWeight": "bold",
            "titlePadding": 14
          }
        },
        "y": {
          "field": "won", "type": "quantitative", "title": "Winnings",
          "scale": {"domain": [-39700, 8300], "nice": false, "zero": false},
          "axis": {
            "orient": "right",
            "values": [-35000, -30000, -25000, -20000, -15000, -10000, -5000, 0, 5000],
            "format": "$,.2f",
            "labelOverlap": false,
            "grid": true,
            "gridColor": "#5a5d61",
            "domainColor": "#56595d",
            "tickColor": "#56595d",
            "tickSize": 4,
            "labelColor": "#e8e8e8",
            "labelFontSize": 11,
            "labelPadding": 6,
            "titleColor": "#ffffff",
            "titleFontSize": 11,
            "titleFontWeight": "bold",
            "titleAngle": 270,
            "titleAlign": "center",
            "titleBaseline": "middle",
            "titleX": 87,
            "titleY": 505
          }
        },
        "color": {
          "field": "series", "type": "nominal",
          "scale": {"domain": ["Net Won", "Non Showdown", "Showdown", "All-In EV"], "range": ["#33d633", "#e0474c", "#3a9ad9", "#f0962f"]},
          "legend": {
            "orient": "none",
            "legendX": -6,
            "legendY": 1085,
            "direction": "horizontal",
            "title": "^   Options",
            "titleOrient": "left",
            "titlePadding": 719,
            "titleFontSize": 11,
            "titleFontWeight": "normal",
            "titleColor": "#d0d0d0",
            "labelFontSize": 11,
            "labelColor": "#c8c8c8",
            "symbolType": "square",
            "symbolSize": 2,
            "symbolStrokeWidth": 5,
            "columnPadding": 0,
            "labelOffset": 5,
            "padding": 0
          }
        }
      }
    },
    {
      "data": {"values": [{}]},
      "mark": {"type": "rule", "color": "#ffffff", "strokeWidth": 2.5},
      "encoding": {"y": {"datum": 0, "axis": null}}
    }
  ]
}
